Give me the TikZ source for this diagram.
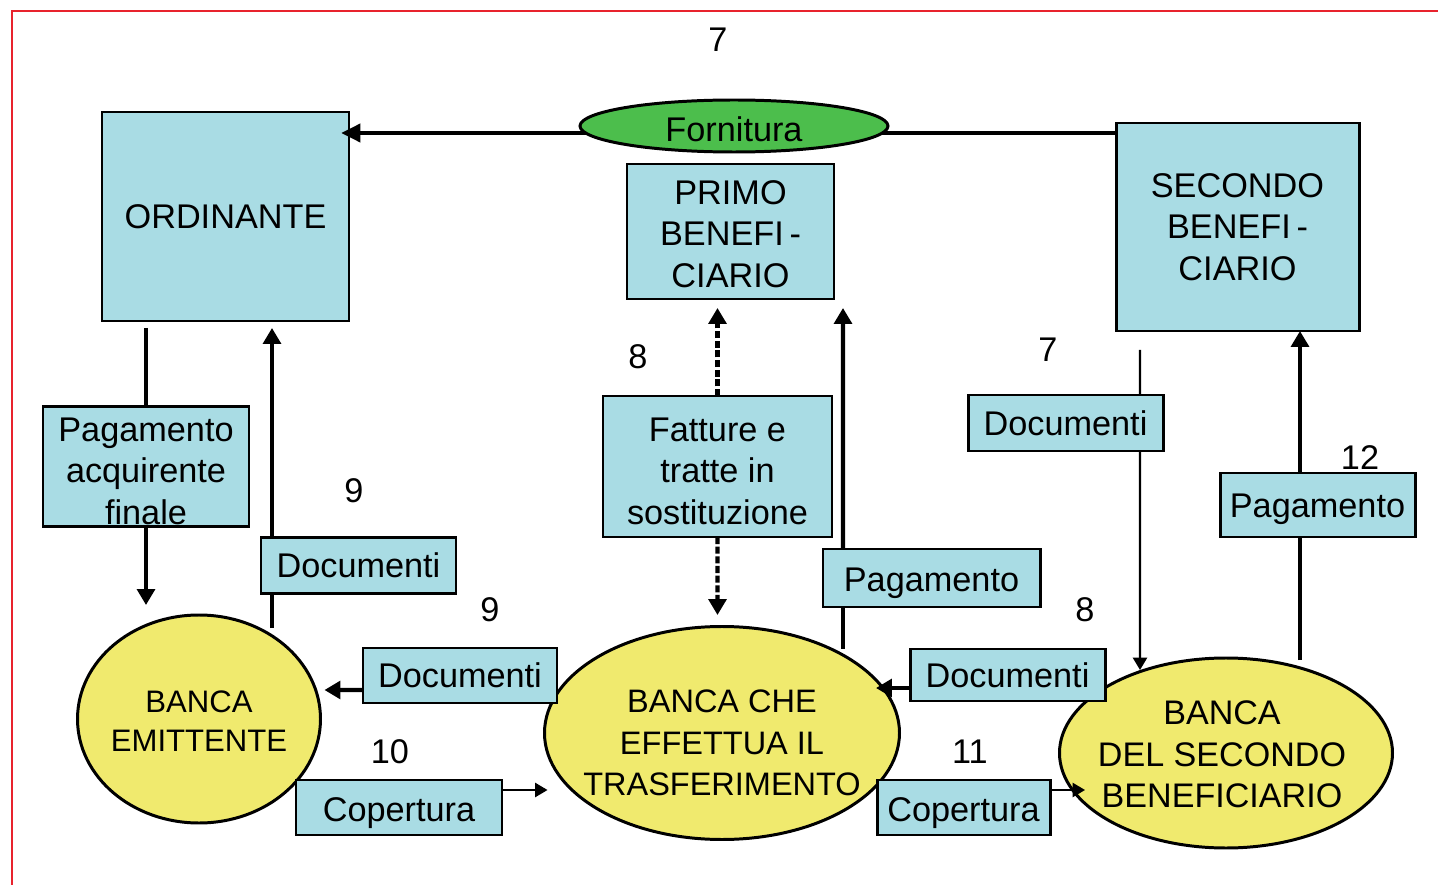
\documentclass[tikz,border=0pt]{standalone}
\usepackage{fontspec}
\setmainfont{Liberation Sans}
\usetikzlibrary{arrows.meta,shapes.geometric,calc}
\newdimen\pxu \pxu=0.02cm
\newcommand\tallr[1]{\rule{0pt}{#1\pxu}}
\definecolor{boxblue}{RGB}{169,220,228}
\definecolor{bankyellow}{RGB}{240,234,110}
\definecolor{leafgreen}{RGB}{76,190,76}
\definecolor{framered}{RGB}{232,35,45}
\tikzset{
 lbl/.style={draw=black, line width=1.7pt, fill=boxblue, inner sep=0pt, outer sep=0pt, align=center, font=\fontsize{19.5}{23.5}\selectfont},
 bank/.style={ellipse, draw=black, line width=1.7pt, fill=bankyellow, inner sep=0pt, outer sep=0pt},
 banktext/.style={align=center, inner sep=0pt},
 num/.style={font=\fontsize{19.5}{23.5}\selectfont, inner sep=0pt},
 topline/.style={line width=2.8pt},
 thickline/.style={line width=2.3pt},
 thinline/.style={line width=1.2pt},
 bigtip/.style={-{Triangle[length=9pt,width=10pt]}},
 smalltip/.style={-{Triangle[length=7pt,width=8pt]}},
 dashdbl/.style={line width=2.3pt, dash pattern=on 4pt off 1.5pt},
}
\begin{document}
\begin{tikzpicture}[x=0.02cm,y=-0.02cm]
\useasboundingbox (0,0) rectangle (1438,885);
\fill[white] (0,0) rectangle (1438,885);
\draw[framered, line width=1.2pt] (12,885) -- (12,11) -- (1438,11);

% boxes
\node[lbl, minimum width=247\pxu, minimum height=209\pxu] (ord) at (225.5,216.5) {ORDINANTE};
\node[lbl, minimum width=207\pxu, minimum height=135\pxu] (primo) at (730.5,231.5) {\tallr{29}PRIMO\\BENEFI\,-\\CIARIO};
\node[lbl, minimum width=243\pxu, minimum height=208\pxu] (sec) at (1237.5,227) {SECONDO\\BENEFI\,-\\CIARIO};
\node[lbl, minimum width=229\pxu, minimum height=141\pxu] (fat) at (717.5,466.5) {\tallr{33}Fatture e\\tratte in\\sostituzione};
\node[lbl, minimum width=206\pxu, minimum height=120\pxu] (pagacq) at (146,466.5) {\tallr{33}Pagamento\\acquirente\\finale};

% banks
\node[bank, minimum width=243\pxu, minimum height=208\pxu] (emit) at (199,719) {};
\node[banktext, font=\fontsize{17.7}{22}\selectfont] (emittext) at (199,721) {BANCA\\EMITTENTE};
\node[bank, minimum width=355\pxu, minimum height=213\pxu] (che) at (722,733) {};
\node[banktext, font=\fontsize{18.5}{23.5}\selectfont] (chetext) at (722,743) {BANCA CHE\\EFFETTUA IL\\TRASFERIMENTO};
\node[bank, minimum width=333\pxu, minimum height=190\pxu] (sbank) at (1226,753) {};
\node[banktext, font=\fontsize{19.4}{23.5}\selectfont] (sbanktext) at (1222,754.5) {BANCA\\DEL SECONDO\\BENEFICIARIO};

% small label boxes
\node[lbl, minimum width=195\pxu, minimum height=56\pxu] (doc1) at (358.5,565.5) {Documenti};
\node[lbl, minimum width=217\pxu, minimum height=58\pxu] (pag2) at (931.5,578) {\tallr{35}Pagamento};
\node[lbl, minimum width=195\pxu, minimum height=56\pxu] (doc2) at (1065.5,423) {Documenti};
\node[lbl, minimum width=195\pxu, minimum height=64\pxu] (pag3) at (1317.5,505) {\tallr{33}Pagamento};
\node[lbl, minimum width=194\pxu, minimum height=55\pxu] (doc3) at (460,675.5) {Documenti};
\node[lbl, minimum width=195\pxu, minimum height=52\pxu] (doc4) at (1007.5,675) {Documenti};
\node[lbl, minimum width=206\pxu, minimum height=55\pxu] (cop1) at (399,807.5) {\tallr{35}Copertura};
\node[lbl, minimum width=173\pxu, minimum height=55\pxu] (cop2) at (963.5,807.5) {\tallr{35}Copertura};

% top supply line, behind the Fornitura ellipse
\draw[topline, -{Triangle[length=11pt,width=10pt]}] ($(sec.north west)+(0,10)$) -- ($(ord.north east)+(-8,21)$);
\node[ellipse, draw=black, line width=1.7pt, fill=leafgreen, inner sep=0pt, outer sep=0pt, minimum width=308\pxu, minimum height=52\pxu, font=\fontsize{19.5}{23.5}\selectfont] (forn) at (734,126) {\tallr{31}Fornitura};

% numbers
\node[num] (n7a) at (718,40) {7};
\node[num] (n8a) at (638,357) {8};
\node[num] (n9a) at (354,491) {9};
\node[num] (n7b) at (1048,350) {7};
\node[num] (n12) at (1360,458) {12};
\node[num] (n9b) at (490,610) {9};
\node[num] (n8b) at (1085,610) {8};
\node[num] (n10) at (390,752) {10};
\node[num] (n11) at (970,752) {11};

% left column: ordinante -> banca emittente
\draw[thickline] ($(ord.south west)+(44,7)$) -- (pagacq.north);
\draw[thickline, bigtip] (pagacq.south) -- ($(emit.north)+(-53,-10)$);
% banca emittente -> ordinante (documenti)
\draw[thickline] ($(emit.north)+(73,13)$) -- ($(doc1.south west)+(11,0)$);
\draw[thickline, bigtip] ($(doc1.north west)+(11,0)$) -- ($(ord.south west)+(170,7)$);

% fatture e tratte: dashed, both directions
\draw[dashdbl, bigtip] (fat.north) -- ($(primo.south)+(-13,9)$);
\draw[dashdbl, bigtip] (fat.south) -- ($(che.north)+(-4.5,-11.5)$);

% pagamento to primo beneficiario
\draw[thickline] ($(che.north)+(121,22)$) -- ($(pag2.south west)+(20,0)$);
\draw[thickline, bigtip] ($(pag2.north west)+(20,0)$) -- ($(primo.south east)+(9,9)$);

% documenti from secondo beneficiario to its bank
\draw[thinline] ($(sec.south west)+(24,19)$) -- ($(doc2.north east)+(-23,0)$);
\draw[thinline, smalltip] ($(doc2.south east)+(-23,0)$) -- ($(sbank.north)+(-86,12)$);

% pagamento 12 to secondo beneficiario
\draw[thickline] ($(sbank.north)+(74,2)$) -- ($(pag3.south west)+(80,0)$);
\draw[thickline, bigtip] ($(pag3.north west)+(80,0)$) -- ($(sec.south west)+(184,0)$);

% documenti between banks
\draw[thickline, bigtip] ($(doc3.south west)+(0,-13)$) -- ($(emit.east)+(4,-29)$);
\draw[thickline, bigtip] ($(doc4.south west)+(0,-13)$) -- ($(che.east)+(-23.5,-45)$);

% copertura
\draw[thinline, smalltip] ($(cop1.north east)+(0,10)$) -- ($(che.west)+(3,57)$);
\draw[thinline, smalltip] ($(cop2.north east)+(0,10)$) -- ($(sbank.west)+(25.5,37)$);
\end{tikzpicture}
\end{document}
